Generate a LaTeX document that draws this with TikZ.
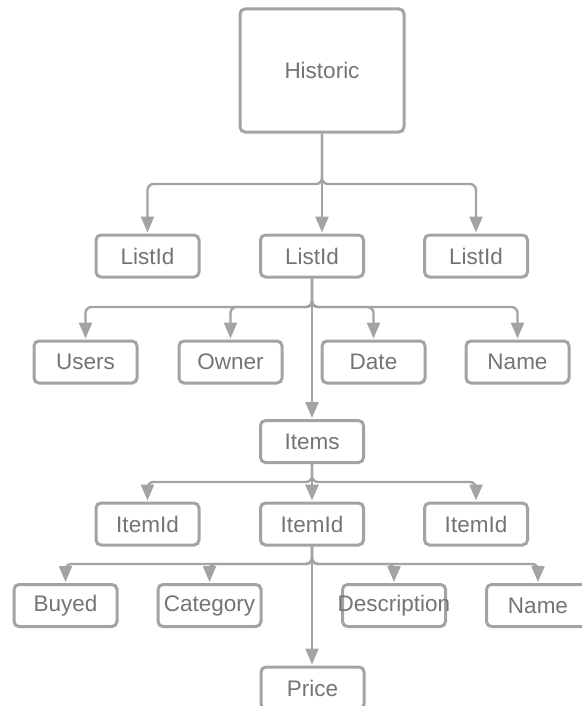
\documentclass[tikz,border=0pt]{standalone}
\usepackage{fontspec}
\setmainfont{Liberation Sans}
\usetikzlibrary{arrows.meta}
\definecolor{edgegray}{HTML}{A3A3A3}
\definecolor{textgray}{HTML}{747474}
\begin{document}
\begin{tikzpicture}[x=1pt,y=-1pt,
  box/.style={draw=edgegray, line width=3pt, rounded corners=5pt, fill=white,
    minimum width=103pt, minimum height=42pt, inner sep=0pt,
    label={[text=textgray, font=\fontsize{22.5}{25}\selectfont]center:#1}},
  conn/.style={draw=edgegray, line width=2.4pt, rounded corners=6pt,
    -{Triangle[width=13pt,length=16pt]}, shorten >=1pt}]
\useasboundingbox (0,0) rectangle (581,706);

% root
\node[box=Historic, minimum width=164pt, minimum height=123pt] (hist) at (322,70.5) {};

% list ids
\node[box=ListId] (l1) at (147.5,256) {};
\node[box=ListId] (l2) at (312,256) {};
\node[box=ListId] (l3) at (476,256) {};

% list fields
\node[box=Users] (users) at (85.5,362) {};
\node[box=Owner] (owner) at (230.5,362) {};
\node[box=Date]  (date)  at (373.5,362) {};
\node[box=Name]  (name1) at (517.5,362) {};

% items
\node[box=Items] (items) at (312,441.5) {};

% item ids
\node[box=ItemId] (i1) at (147.5,524) {};
\node[box=ItemId] (i2) at (312,524) {};
\node[box=ItemId] (i3) at (476,524) {};

% item fields
\node[box=Buyed]       (buyed) at (65.5,605.5) {};
\node[box=Category]    (cat)   at (209.5,605.5) {};
\node[box=Description] (desc)  at (394,605.5) {};
\node[box=Name]        (name2) at (538,605.5) {};
\node[box=Price]       (price) at (312.5,688) {};

% bus rows
\coordinate (busA) at (0,184);
\coordinate (busB) at (0,307);
\coordinate (busC) at (0,482);
\coordinate (busD) at (0,564);

% Historic -> ListId
\draw[conn] (hist.south) -- (hist.south |- busA) -| (l1.north);
\draw[conn] (hist.south) -- (hist.south |- l2.north);
\draw[conn] (hist.south) -- (hist.south |- busA) -| (l3.north);

% ListId -> fields
\draw[conn] (l2.south) -- (l2.south |- busB) -| (users.north);
\draw[conn] (l2.south) -- (l2.south |- busB) -| (owner.north);
\draw[conn] (l2.south) -- (l2.south |- busB) -| (date.north);
\draw[conn] (l2.south) -- (l2.south |- busB) -| (name1.north);
\draw[conn] (l2.south) -- (items.north);

% Items -> ItemId
\draw[conn] (items.south) -- (items.south |- busC) -| (i1.north);
\draw[conn] (items.south) -- (i2.north);
\draw[conn] (items.south) -- (items.south |- busC) -| (i3.north);

% ItemId -> fields
\draw[conn] (i2.south) -- (i2.south |- busD) -| (buyed.north);
\draw[conn] (i2.south) -- (i2.south |- busD) -| (cat.north);
\draw[conn] (i2.south) -- (i2.south |- busD) -| (desc.north);
\draw[conn] (i2.south) -- (i2.south |- busD) -| (name2.north);
\draw[conn] (i2.south) -- (i2.south |- price.north);
\end{tikzpicture}
\end{document}
